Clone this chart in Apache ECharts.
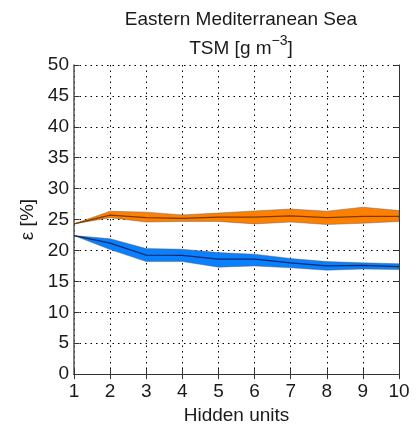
<!DOCTYPE html>
<html>
<head>
<meta charset="utf-8">
<script src="https://cdn.jsdelivr.net/npm/echarts@6/dist/echarts.min.js"></script>
<style>html,body{margin:0;padding:0;background:#fff}#c{width:419px;height:430px}</style>
</head>
<body>
<div id="c"></div>
<script>
const hiddenUnits = [1, 2, 3, 4, 5, 6, 7, 8, 9, 10];
const orangeLower = [24.3, 25.3, 24.6, 24.7, 24.7, 24.3, 24.6, 24.2, 24.4, 24.7];
const orangeMid   = [24.3, 25.7, 25.3, 25.2, 25.4, 25.4, 25.6, 25.3, 25.5, 25.5];
const orangeUpper = [24.3, 26.35, 26.2, 25.75, 26.05, 26.4, 26.7, 26.35, 27.0, 26.45];
const blueLower = [22.4, 20.15, 18.2, 18.2, 17.3, 17.5, 17.2, 16.8, 17.0, 16.9];
const blueMid   = [22.4, 21.2, 19.25, 19.2, 18.6, 18.6, 18.0, 17.5, 17.6, 17.4];
const blueUpper = [22.4, 21.9, 20.3, 20.2, 19.65, 19.4, 18.7, 18.2, 18.0, 17.85];
const yTicks = [0, 5, 10, 15, 20, 25, 30, 35, 40, 45, 50];

const FONT = 'Liberation Sans, Arial, sans-serif';

function bandSeries(lower, upper, fill) {
  return {
    type: 'custom',
    data: [0],
    z: 2,
    silent: true,
    renderItem: function (params, api) {
      const pts = [];
      for (let i = 0; i < hiddenUnits.length; i++) pts.push(api.coord([hiddenUnits[i], upper[i]]));
      for (let i = hiddenUnits.length - 1; i >= 0; i--) pts.push(api.coord([hiddenUnits[i], lower[i]]));
      return {
        type: 'polygon',
        shape: { points: pts },
        style: { fill: fill, stroke: 'rgba(90,90,90,0.55)', lineWidth: 0.8 }
      };
    }
  };
}
function midSeries(mid, color) {
  return {
    type: 'line',
    data: hiddenUnits.map((x, i) => [x, mid[i]]),
    showSymbol: false,
    symbol: 'none',
    z: 3,
    lineStyle: { color: color, width: 1.3 },
    silent: true
  };
}

const chart = echarts.init(document.getElementById('c'), null, { renderer: 'canvas' });
chart.setOption({
  animation: false,
  backgroundColor: '#fff',
  title: {
    text: 'Eastern Mediterranean Sea\nTSM [g m{sup|−3}]',
    left: 236,
    textAlign: 'center',
    top: 0,
    textStyle: {
      fontFamily: FONT, fontSize: 19, fontWeight: 'normal', color: '#1a1a1a', lineHeight: 29,
      rich: { sup: { fontFamily: FONT, fontSize: 14, color: '#1a1a1a', verticalAlign: 'top', lineHeight: 14, padding: [0, 0, 12, 0] } }
    }
  },
  grid: { left: 74, right: 20, top: 65, bottom: 52 },
  xAxis: [{
    type: 'value', min: 1, max: 10, interval: 1,
    name: 'Hidden units', nameLocation: 'middle', nameGap: 29,
    nameTextStyle: { fontFamily: FONT, fontSize: 19, color: '#1a1a1a' },
    axisLine: { lineStyle: { color: '#333', width: 1 } },
    axisTick: { inside: true, length: 5, lineStyle: { color: '#333' } },
    axisLabel: { fontFamily: FONT, fontSize: 19, color: '#1a1a1a', margin: 8 },
    splitLine: { show: true, lineStyle: { color: '#000', type: [1.5, 4], width: 1 } }
  }, {
    type: 'value', min: 1, max: 10, interval: 1, position: 'top',
    axisLine: { show: true, lineStyle: { color: '#333', width: 1 } },
    axisTick: { show: true, inside: true, length: 5, lineStyle: { color: '#333' } },
    axisLabel: { show: false }, splitLine: { show: false }
  }],
  yAxis: [{
    type: 'value', min: 0, max: 50, interval: 5,
    name: 'ε [%]', nameLocation: 'middle', nameGap: 36,
    nameTextStyle: { fontFamily: FONT, fontSize: 19, color: '#1a1a1a' },
    axisLine: { show: true, lineStyle: { color: '#555', width: 1.5 } },
    axisTick: { show: true, inside: true, length: 5, lineStyle: { color: '#333' } },
    axisLabel: { fontFamily: FONT, fontSize: 19, color: '#1a1a1a', margin: 5,
      formatter: v => yTicks.indexOf(v) >= 0 ? String(v) : '' },
    splitLine: { show: true, lineStyle: { color: '#000', type: [1.5, 4], width: 1 } }
  }, {
    type: 'value', min: 0, max: 50, interval: 5, position: 'right',
    axisLine: { show: true, lineStyle: { color: '#333', width: 1 } },
    axisTick: { show: true, inside: true, length: 5, lineStyle: { color: '#333' } },
    axisLabel: { show: false }, splitLine: { show: false }
  }],
  series: [
    bandSeries(orangeLower, orangeUpper, '#FF8000'),
    midSeries(orangeMid, '#7a3a00'),
    bandSeries(blueLower, blueUpper, '#0A80FF'),
    midSeries(blueMid, '#0a2a6a')
  ]
});
</script>
</body>
</html>
